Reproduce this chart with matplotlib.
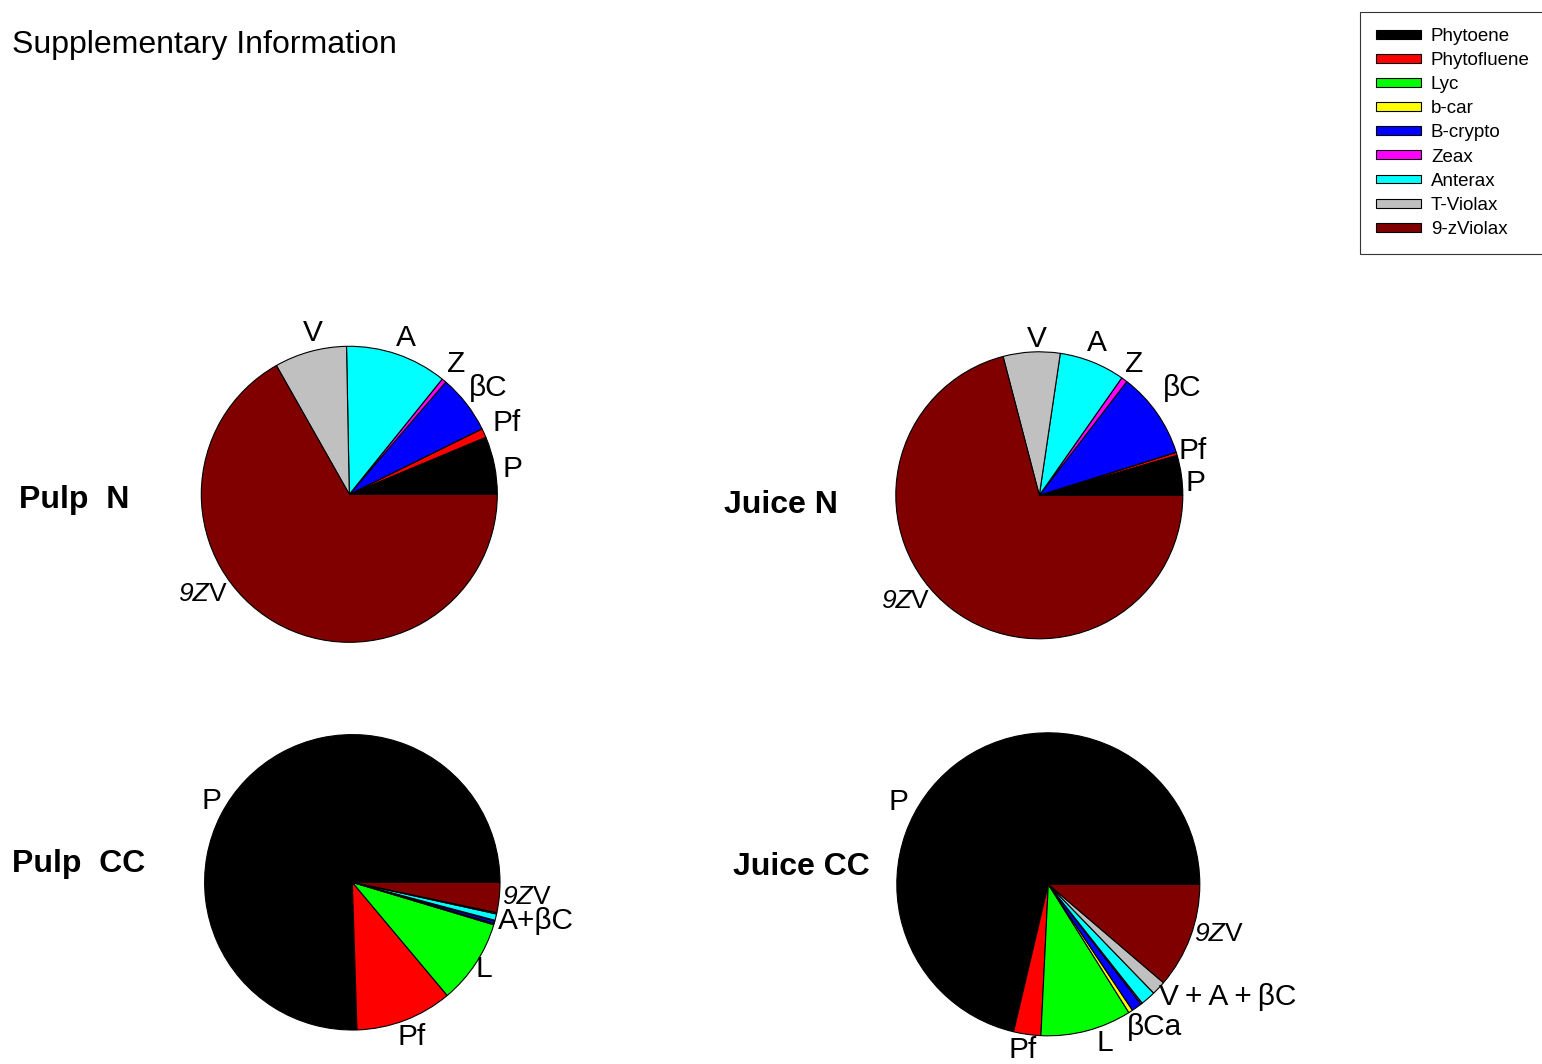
import numpy as np
import matplotlib.pyplot as plt
from matplotlib.patches import Patch

plt.rcParams['font.family'] = ['Liberation Sans', 'DejaVu Sans']

# donnees (pourcentages)
pigments = ["Phytoene", "Phytofluene", "Lyc", "b-car", "B-crypto",
            "Zeax", "Anterax", "T-Violax", "9-zViolax"]
couleurs = ["#000000", "#FF0000", "#00FF00", "#FFFF00", "#0000FF",
            "#FF00FF", "#00FFFF", "#C0C0C0", "#800000"]

pulp_n = [6.3, 1.0, 0, 0, 6.4, 0.5, 11.1, 7.9, 66.8]
juice_n = [4.5, 0.35, 0, 0, 9.7, 0.7, 7.4, 6.4, 70.9]
pulp_cc = [75.5, 10.6, 9.25, 0.14, 0.28, 0.08, 0.7, 0.14, 3.3]
juice_cc = [71.3, 2.9, 9.7, 0.45, 1.1, 0.17, 1.6, 1.5, 11.25]

titres = ["Pulp  N", "Juice N", "Pulp  CC", "Juice CC"]

NZV = "9ZV"   # "9Z" en italique, "V" droit
etiquettes_pulp_n = ["V", "A", "Z", "βC", "Pf", "P", NZV]
etiquettes_juice_n = ["V", "A", "Z", "βC", "Pf", "P", NZV]
etiquettes_pulp_cc = ["P", "Pf", "L", NZV, "A+βC"]
etiquettes_juice_cc = ["P", "Pf", "L", "βCa", "V\u2009+\u2009A\u2009+\u2009βC", NZV]

# mise en page (pixels de l'image)
W, H = 1542, 1064
fig = plt.figure(figsize=(W / 100, H / 100), dpi=100)

pos_etiq = [
    [(-0.245, 1.09), (0.385, 1.057), (0.72, 0.88), (0.94, 0.72), (1.06, 0.48), (1.1, 0.17), (-0.995, -0.675)],
    [(-0.016, 1.089), (0.40, 1.06), (0.66, 0.917), (0.996, 0.75), (1.07, 0.31), (1.09, 0.086), (-0.94, -0.736)],
    [(-0.95, 0.55), (0.40, -1.047), (0.89, -0.59), (1.176, -0.10), (1.243, -0.26)],
    [(-0.99, 0.545), (-0.17, -1.094), (0.375, -1.048), (0.70, -0.942), (1.185, -0.744), (1.12, -0.33)],
]
centres = [(349.3, 494.3, 148), (1039.3, 495.3, 143.5), (352.3, 882.3, 147.7), (1048.3, 884.3, 151.5)]
pos_titres = [(19, 500), (724, 505), (12, 864), (733, 867)]

series = [pulp_n, juice_n, pulp_cc, juice_cc]
etiquettes = [etiquettes_pulp_n, etiquettes_juice_n, etiquettes_pulp_cc, etiquettes_juice_cc]

pad = 1.6
for vals, etiq, pos, (cx, cy, r), titre, (tx, ty) in zip(series, etiquettes, pos_etiq, centres, titres, pos_titres):
    ax = fig.add_axes([(cx - pad * r) / W, 1 - (cy + pad * r) / H, 2 * pad * r / W, 2 * pad * r / H])
    ax.pie(vals, colors=couleurs, startangle=0, counterclock=True,
           wedgeprops=dict(edgecolor="black", linewidth=0.8))
    ax.set_xlim(-pad, pad)
    ax.set_ylim(-pad, pad)
    ax.set_aspect("equal")
    ax.axis("off")
    for txt, (x, y) in zip(etiq, pos):
        if txt == NZV:
            # 9Z italique + V droit, separes autour du point (x, y)
            ax.annotate("9Z", (x, y), xytext=(5, 0), textcoords="offset points",
                        ha="right", va="center", fontsize=19, style="italic")
            ax.annotate("V", (x, y), xytext=(5, 0), textcoords="offset points",
                        ha="left", va="center", fontsize=19)
        else:
            ax.text(x, y, txt, ha="center", va="center", fontsize=21.5)
    fig.text(tx / W, 1 - ty / H, titre, ha="left", va="center", fontsize=23, fontweight="bold")

fig.text(12 / W, 1 - 45 / H, "Supplementary Information", ha="left", va="center", fontsize=23)

handles = [Patch(facecolor=c, edgecolor="black", linewidth=0.8) for c in couleurs]
leg = fig.legend(handles, pigments, loc="upper left", bbox_to_anchor=(1360 / W, 1 - 12 / H),
                 fontsize=13.5, frameon=True, fancybox=False, edgecolor="black",
                 handlelength=2.4, handleheight=0.35, handletextpad=0.53,
                 labelspacing=0.38, borderpad=0.85, borderaxespad=0)
leg.get_frame().set_linewidth(0.8)

plt.savefig("out.png", dpi=100)
